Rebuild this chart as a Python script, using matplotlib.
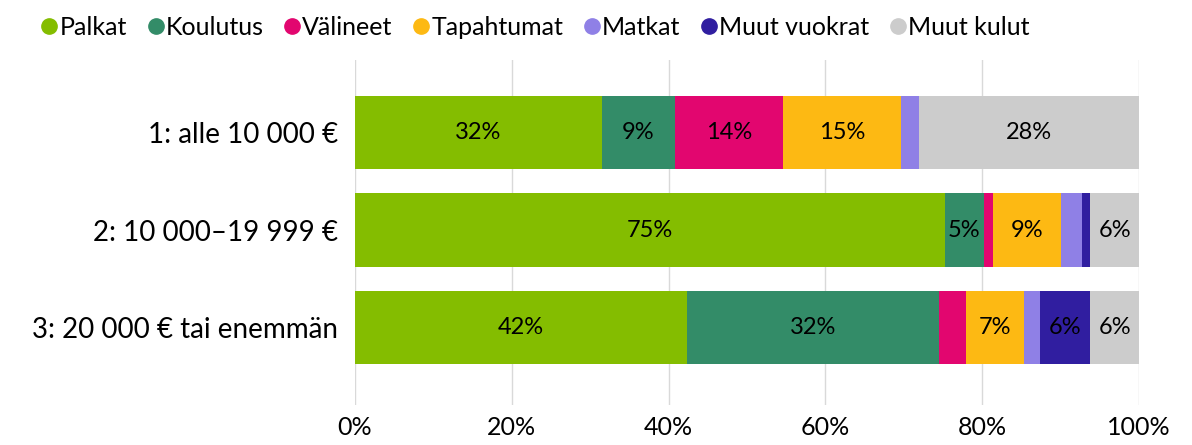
import matplotlib.pyplot as plt
from matplotlib.lines import Line2D
import numpy as np

# Data (percent shares per row)
categories = ['1: alle 10 000 €', '2: 10 000–19 999 €', '3: 20 000 € tai enemmän']
series = ['Palkat', 'Koulutus', 'Välineet', 'Tapahtumat', 'Matkat', 'Muut vuokrat', 'Muut kulut']
palkat = [31.5, 75.2, 42.3]
koulutus = [9.3, 5.0, 32.2]
valineet = [13.8, 1.2, 3.5]
tapahtumat = [15.1, 8.6, 7.3]
matkat = [2.3, 2.7, 2.1]
muut_vuokrat = [0.0, 1.1, 6.4]
muut_kulut = [28.0, 6.2, 6.2]
colors = ['#84BD00', '#338C68', '#E2066F', '#FDB913', '#8F80E6', '#301EA0', '#CCCCCC']

values = [palkat, koulutus, valineet, tapahtumat, matkat, muut_vuokrat, muut_kulut]

plt.rcParams['font.family'] = ['Lato', 'DejaVu Sans']

fig = plt.figure(figsize=(11.92, 4.45), dpi=100)
ax = fig.add_axes([0.2978, 0.09, 0.6577, 0.775])

y = np.arange(len(categories))
left = np.zeros(len(categories))
for name, vals, col in zip(series, values, colors):
    vals = np.array(vals)
    ax.barh(y, vals, left=left, height=0.75, color=col, label=name, zorder=3)
    for yi, (l, v) in enumerate(zip(left, vals)):
        if v >= 4.5:
            ax.text(l + v / 2, yi, f'{round(v):.0f}%', ha='center', va='center',
                    fontsize=17, color='black', zorder=4)
    left += vals

ax.set_xlim(0, 100)
ax.set_ylim(2.79, -0.74)
ax.set_yticks(y)
ax.set_yticklabels(categories, fontsize=20)
ax.set_xticks(np.arange(0, 101, 20))
ax.set_xticklabels([f'{t}%' for t in range(0, 101, 20)], fontsize=18)
ax.tick_params(length=0, pad=8)
ax.tick_params(axis='y', pad=12)
ax.grid(axis='x', color='#D9D9D9', linewidth=1, zorder=0)
for s in ax.spines.values():
    s.set_visible(False)

handles = [Line2D([0], [0], marker='o', linestyle='', markersize=11,
                  markerfacecolor=c, markeredgecolor=c) for c in colors]
fig.legend(handles, series, loc='upper left', bbox_to_anchor=(0.01, 1.015), ncol=7,
           frameon=False, fontsize=18, handletextpad=-0.2, columnspacing=0.55,
           handlelength=1.2)

fig.savefig('out.png', dpi=100)
